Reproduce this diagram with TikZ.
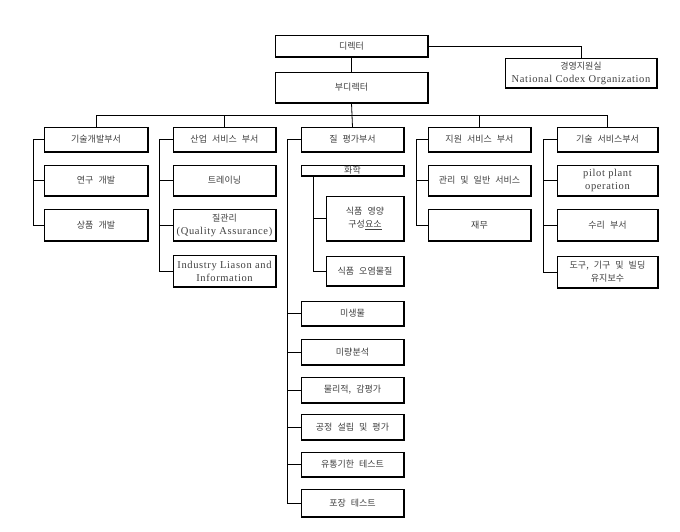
\documentclass[tikz,border=0pt]{standalone}
\usepackage{fontspec}
\setmainfont{Liberation Serif}
\newfontfamily\kr{Noto Sans CJK KR}[WordSpace=2.5]
\newfontfamily\latf{Liberation Serif}[LetterSpace=6]
\newcommand\lt[1]{{\latf\fontsize{10.5}{13}\selectfont #1}}
\tikzset{
  box/.style={draw, line width=0.7pt, inner sep=0pt, outer sep=0pt, align=center,
    text=black!75, font=\kr\fontsize{9}{13}\selectfont,
    append after command={(\tikzlastnode.north east) edge[line width=1.3pt] (\tikzlastnode.south east)
      (\tikzlastnode.south east) edge[line width=1.3pt] (\tikzlastnode.south west)}},
  conn/.style={draw, line width=0.8pt}
}
\newcommand\bx[6]{\node[box, minimum width={(#4-#2)*1pt}, minimum height={(#5-#3)*1pt}] (#1) at ({(#2+#4)/2},{(#3+#5)/2}) {#6};}
\begin{document}
\begin{tikzpicture}[x=1pt,y=-1pt]
\fill[white] (0,0) rectangle (680,532);
\useasboundingbox (0,0) rectangle (680,532);
% top
\bx{dir}{275}{35}{428}{57}{디렉터}
\bx{mgmt}{505}{58}{657}{88}{경영지원실\\\lt{National Codex Organization}}
\bx{vdir}{275}{72}{428}{103}{부디렉터}
% column 1
\bx{cah}{44}{127}{148}{152}{기술개발부서}
\bx{caa}{44}{165}{148}{196}{연구 개발}
\bx{cab}{44}{209}{148}{241}{상품 개발}
% column 2
\bx{cbh}{173}{127}{276}{152}{산업 서비스 부서}
\bx{cba}{173}{165}{276}{196}{트레이닝}
\bx{cbb}{173}{209}{276}{241}{질관리\\\lt{(Quality Assurance)}}
\bx{cbc}{173}{255}{276}{287}{\lt{Industry Liason and}\\\lt{Information}}
% column 3
\bx{cch}{301}{127}{404}{152}{질 평가부서}
\bx{chem}{301}{165}{404}{176}{화학}
\bx{sa}{326}{196}{404}{241}{식품 영양\\구성\underline{요소}}
\bx{sb}{326}{256}{404}{286}{식품 오염물질}
\bx{pa}{301}{301}{404}{326}{미생물}
\bx{pb}{301}{339}{404}{365}{미량분석}
\bx{pc}{301}{377}{404}{403}{물리적, 감평가}
\bx{pd}{301}{414}{404}{440}{공정 설립 및 평가}
\bx{pe}{301}{452}{404}{477}{유통기한 테스트}
\bx{pf}{301}{489}{404}{517}{포장 테스트}
% column 4
\bx{cdh}{428}{127}{531}{152}{지원 서비스 부서}
\bx{cda}{428}{165}{531}{196}{관리 및 일반 서비스}
\bx{cdb}{428}{209}{531}{241}{재무}
% column 5
\bx{ceh}{557}{127}{658}{152}{기술 서비스부서}
\bx{cea}{557}{165}{658}{196}{\lt{pilot plant}\\\lt{operation}}
\bx{ceb}{557}{209}{658}{241}{수리 부서}
\bx{cec}{557}{256}{658}{288}{도구, 기구 및 빌딩\\유지보수}
% connectors top
\draw[conn] (dir.south -| vdir.north) -- (vdir.north);
\draw[conn] (dir.east) -| (mgmt.north);
\draw[conn] (vdir.south) -- (cch.north);
\coordinate (bus) at (352,115);
\draw[conn] (cah.north) |- (bus) -| (ceh.north);
\draw[conn] (cbh.north) |- (bus);
\draw[conn] (cdh.north) |- (bus);
% column 1 spine
\draw[conn] (cah.west) -- ++(-11,0) coordinate (spa) |- (cab.west);
\draw[conn] (caa.west) -- (caa.west -| spa);
% column 2 spine
\draw[conn] (cbh.west) -- ++(-14,0) coordinate (spb) |- (cbc.west);
\draw[conn] (cba.west) -- (cba.west -| spb);
\draw[conn] (cbb.west) -- (cbb.west -| spb);
% column 3 spine
\draw[conn] (cch.west) -- ++(-14,0) coordinate (spc) |- (pf.west);
\foreach \n in {pa,pb,pc,pd,pe} \draw[conn] (\n.west) -- (\n.west -| spc);
\coordinate (chs) at ([xshift=12pt]chem.south west);
\draw[conn] (chs) |- (sb.west);
\draw[conn] (sa.west) -- (sa.west -| chs);
% column 4 spine
\draw[conn] (cdh.west) -- ++(-12,0) coordinate (spd) |- (cdb.west);
\draw[conn] (cda.west) -- (cda.west -| spd);
% column 5 spine
\draw[conn] (ceh.west) -- ++(-14,0) coordinate (spe) |- (cec.west);
\draw[conn] (cea.west) -- (cea.west -| spe);
\draw[conn] (ceb.west) -- (ceb.west -| spe);
\end{tikzpicture}
\end{document}
